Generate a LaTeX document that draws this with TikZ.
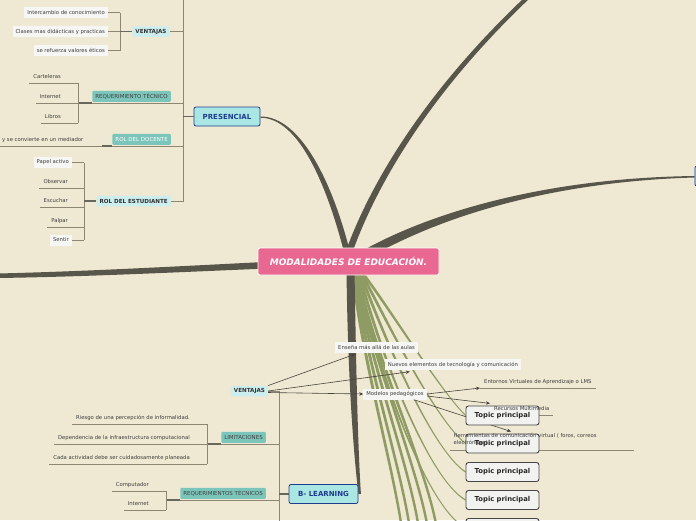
\documentclass[tikz,border=0pt]{standalone}
\usepackage{fontspec}
\setmainfont{DejaVu Sans}
\usetikzlibrary{arrows.meta,calc}
\pgfdeclarelayer{back}
\pgfsetlayers{back,main}
\definecolor{bgc}{RGB}{239,232,210}
\definecolor{brc}{RGB}{88,86,74}
\definecolor{grc}{RGB}{142,155,99}
\definecolor{pinkc}{RGB}{233,104,145}
\definecolor{cyanc}{RGB}{170,230,228}
\definecolor{bluec}{RGB}{30,60,140}
\definecolor{lcyanc}{RGB}{205,238,238}
\definecolor{tealc}{RGB}{124,197,187}
\definecolor{boxc}{RGB}{246,246,244}
\definecolor{txtc}{RGB}{60,60,60}
\definecolor{linec}{RGB}{140,134,114}
\definecolor{arrc}{RGB}{70,68,60}
\definecolor{topc}{RGB}{242,242,240}
\definecolor{topbc}{RGB}{70,70,70}
\newcommand\grbranch[7]{%
 \fill[grc] ($(#1,#2)+(-1.6,0)$) .. controls ($(#3,#4)+(-1.6,0)$) and ($(#5,#6)+(0,0.7)$) .. ($(#7)+(0,0.7)$) -- ($(#7)+(0,-0.7)$) .. controls ($(#5,#6)+(0,-0.7)$) and ($(#3,#4)+(1.6,0)$) .. ($(#1,#2)+(1.6,0)$) -- cycle;}
\newcommand\grdown[7]{%
 \fill[grc] ($(#1,#2)+(-1.6,0)$) .. controls ($(#3,#4)+(-1.5,0)$) and ($(#5,#6)+(-1.3,0)$) .. ($(#7)+(-1.2,0)$) -- ($(#7)+(1.2,0)$) .. controls ($(#5,#6)+(1.3,0)$) and ($(#3,#4)+(1.5,0)$) .. ($(#1,#2)+(1.6,0)$) -- cycle;}
\tikzset{
 fsm/.style={font=\fontsize{5.3}{6.2}\selectfont},
 plain/.style={fsm, text=txtc, inner xsep=4pt, inner ysep=3pt, text height=4pt, text depth=1.2pt},
 gbox/.style={fsm, text=txtc, fill=boxc, inner xsep=3pt, inner ysep=0pt, minimum height=11pt},
 tealbox/.style={font=\fontsize{5.5}{6.5}\selectfont, text=black!75, fill=tealc, rounded corners=1pt, inner xsep=3pt, inner ysep=0pt, minimum height=11pt},
 lcy/.style={font=\bfseries\fontsize{5.6}{6.5}\selectfont, text=black!80, fill=lcyanc, rounded corners=1pt, inner xsep=3pt, inner ysep=0pt, minimum height=10.5pt},
 mainbox/.style={font=\bfseries\fontsize{7}{8}\selectfont, text=bluec, fill=cyanc, draw=bluec, line width=0.8pt, rounded corners=2pt, minimum height=19pt},
 topic/.style={font=\bfseries\fontsize{6.8}{8}\selectfont, text=black!85, fill=topc, draw=topbc, line width=0.9pt, rounded corners=2.5pt, minimum width=73pt, minimum height=19pt},
 conn/.style={draw=linec, line width=0.6pt},
 connb/.style={draw=brc!90, line width=1.1pt},
 arr/.style={draw=arrc, line width=0.6pt, -{Stealth[length=4pt,width=3.5pt]}},
}
\begin{document}
\begin{tikzpicture}[x=1pt,y=-1pt]
\useasboundingbox (0,0) rectangle (696,520);
\clip (0,0) rectangle (696,520);

% ===== PRESENCIAL side =====
\node[mainbox, minimum width=66pt] (pres) at (227,116.5) {PRESENCIAL};
\coordinate (pv0) at (183,-5);
\coordinate (pv1) at (183,201.5);
\draw[conn] (pv0) -- (pv1);
\draw[connb] (pres.west) -- (pres.west -| pv0);

% VENTAJAS (presencial)
\node[lcy] (v1) at (151,31.5) {VENTAJAS};
\draw[conn] (v1.east) -- (v1.east -| pv0);
\coordinate (b1t) at (120,12.5);
\coordinate (b1b) at (120,50.5);
\draw[conn] (b1t) -- (b1b);
\draw[connb] (v1.west) -- (v1.west -| b1t);
\node[gbox, anchor=east] (ic) at (108,12.5) {Intercambio de conocimiento};
\node[gbox, anchor=east] (cl) at (108,31.5) {Clases mas didácticas y practicas};
\node[gbox, anchor=east] (se) at (108,50.5) {se refuerza valores éticos};
\foreach \n in {ic,cl,se} \draw[conn] (\n.east) -- (\n.east -| b1t);

% REQUERIMIENTO TECNICO
\node[tealbox, anchor=south east] (req1) at (171,102) {REQUERIMIENTO TÉCNICO};
\coordinate (r1l) at (78,103);
\draw[conn] (r1l) -- (r1l -| pv0);
\draw[connb] (r1l) -- (req1.south west |- r1l);
\coordinate (b2t) at (78,83);
\coordinate (b2b) at (78,123);
\draw[conn] (b2t) -- (b2b);
\node[plain, anchor=south east] (cart) at (65,83) {Carteleras};
\node[plain, anchor=south east] (inte) at (65,103) {Internet};
\node[plain, anchor=south east] (lib) at (65,123) {Libros};
\foreach \n in {cart,inte,lib} \draw[conn] (\n.south west) -- (\n.south west -| b2t);

% ROL DEL DOCENTE
\node[tealbox, text=white, anchor=south east] (rd) at (171,145) {ROL DEL DOCENTE};
\coordinate (rdl) at (-5,146);
\draw[conn] (rdl) -- (rdl -| pv0);
\draw[connb] (rd.south west |- rdl) ++(-10,0) -- (rd.south west |- rdl);
\node[plain, anchor=south east] (med) at (87.5,146) {y se convierte en un mediador};

% ROL DEL ESTUDIANTE
\node[lcy, anchor=east] (re) at (171,201) {ROL DEL ESTUDIANTE};
\draw[conn] (re.east) -- (re.east -| pv0);
\coordinate (b4t) at (84,162.5);
\coordinate (b4b) at (84,240);
\draw[conn] (b4t) -- (b4b);
\draw[connb] (re.west) -- (re.west -| b4t);
\node[gbox, anchor=east] (pap) at (72,162.5) {Papel activo};
\node[gbox, anchor=east] (sen) at (72,240) {Sentir};
\node[plain, anchor=south east] (obs) at (72,188) {Observar};
\node[plain, anchor=south east] (esc) at (72,207) {Escuchar};
\node[plain, anchor=south east] (pal) at (72,227) {Palpar};
\foreach \n in {pap,sen} \draw[conn] (\n.east) -- (\n.east -| b4t);
\foreach \n in {obs,esc,pal} \draw[conn] (\n.south west) -- (\n.south west -| b4t);

% ===== B-LEARNING side =====
\node[mainbox, minimum width=69pt] (bl) at (323.5,494) {B- LEARNING};
\node[lcy] (v2) at (249.5,391) {VENTAJAS};
\coordinate (bv0) at (279,391);
\coordinate (bv1) at (279,525);
\draw[conn] (v2.east) -- (bv0) -- (bv1);
\draw[connb] (bl.west) -- (bl.west -| bv0);

% LIMITACIONES
\node[tealbox, anchor=south east] (lim) at (266,443) {LIMITACIONES};
\coordinate (l0) at (207,444);
\draw[conn] (l0) -- (l0 -| bv0);
\draw[connb] (l0) -- (lim.south west |- l0);
\coordinate (b5t) at (207,424);
\coordinate (b5b) at (207,464);
\draw[conn] (b5t) -- (b5b);
\node[plain, anchor=south east] (rie) at (194,424) {Riesgo de una percepción de informalidad.};
\node[plain, anchor=south east] (dep) at (194,444) {Dependencia de la infraestructura computacional};
\node[plain, anchor=south east] (cad) at (194,464) {Cada actividad debe ser cuidadosamente planeada};
\foreach \n in {rie,dep,cad} \draw[conn] (\n.south west) -- (\n.south west -| b5t);

% REQUERIMIENTOS TECNICOS
\node[tealbox, anchor=south east] (req2) at (266,499) {REQUERIMIENTOS TÉCNICOS};
\coordinate (q0) at (166,500);
\draw[conn] (q0) -- (q0 -| bv0);
\draw[connb] (q0) -- (req2.south west |- q0);
\coordinate (b6t) at (166,491);
\coordinate (b6b) at (166,510);
\draw[conn] (b6t) -- (b6b);
\node[plain, anchor=south east] (comp) at (153,491) {Computador};
\node[plain, anchor=south east] (int2) at (153,510) {Internet};
\foreach \n in {comp,int2} \draw[conn] (\n.south west) -- (\n.south west -| b6t);

% right off-canvas main topic
\node[mainbox, minimum width=60pt, minimum height=20pt, anchor=west] (rn) at (694.5,176) {};

% central node
\node[fill=pinkc, draw=white, line width=0.8pt, rounded corners=2pt, minimum width=181pt, minimum height=27pt, text=white, font=\bfseries\itshape\fontsize{9}{10}\selectfont] (ctr) at (348.5,261.5) {MODALIDADES DE EDUCACIÓN.};

% ventajas children
\node[gbox] (ens) at (376.5,347) {Enseña más allá de las aulas};
\node[gbox] (nue) at (453,364.5) {Nuevos elementos de tecnología y comunicación};
\node[gbox] (mod) at (395,394) {Modelos pedagógicos};
\draw[arr] (v2.north east) -- ($(ens.south west)+(20,1.5)$);
\draw[arr] (v2.east) -- ($(nue.south west)+(25,1.5)$);
\draw[arr] ($(v2.east)+(0,1.5)$) -- (mod.west);

% modelos children: positions, underlines and arrows (behind topics)
\path (480,388) node[plain, anchor=south west] (ent) {\phantom{Entornos Virtuales de Aprendizaje o LMS}};
\path (490,415) node[plain, anchor=south west] (rec) {\phantom{Recursos Multimedia}};
\path (453.5,433.5) node[fsm, align=left, inner sep=0pt, anchor=north west] (her) {\phantom{Herramientas de comunicación virtual ( foros, correos}\\\phantom{electrónicos)}};
\draw[conn] (ent.south west) -- (ent.south east);
\draw[conn] (rec.south west) -- (rec.south east);
\coordinate (herl) at (450,450);
\coordinate (herr) at (634,450);
\draw[conn] (herl) -- (herr);
\draw[arr] (mod.east) -- (ent.south west);
\draw[arr] ($(mod.east)+(0,2)$) -- (rec.north west);
\draw[arr] ($(mod.south east)+(-13,0)$) -- ($(her.north west)+(57.5,-2)$);

% topics
\node[topic] (tp1) at (502.5,415.5) {Topic principal};
\node[topic] (tp2) at (502.5,443.5) {Topic principal};
\node[topic] (tp3) at (502.5,472) {Topic principal};
\node[topic] (tp4) at (502.5,500) {Topic principal};
\node[topic] (tp5) at (502.5,528) {Topic principal};

% texts of modelos children (over the topics, as in the reference)
\node[plain, anchor=south west] at (ent.south west) {Entornos Virtuales de Aprendizaje o LMS};
\node[plain, anchor=south west] at (rec.south west) {Recursos Multimedia};
\node[fsm, text=txtc, align=left, inner sep=0pt, anchor=north west] at (her.north west) {Herramientas de comunicación virtual ( foros, correos\\electrónicos)};

\coordinate (o6) at (437,530);
\coordinate (o7) at (428,530);
\coordinate (o8) at (419,530);
\coordinate (o9) at (410,530);
\coordinate (o10) at (402,530);

\begin{pgfonlayer}{back}
\fill[bgc] (0,0) rectangle (696,520);
% green branches
\grbranch{362}{272}{396}{318}{440}{390}{tp1.west}
\grbranch{361}{272}{390}{328}{436}{420}{tp2.west}
\grbranch{360}{272}{384}{338}{432}{450}{tp3.west}
\grbranch{359}{272}{378}{348}{428}{479}{tp4.west}
\grbranch{358}{272}{373}{358}{425}{507}{tp5.west}
\grdown{357}{272}{372}{350}{428}{470}{o6}
\grdown{356}{272}{369}{350}{419}{470}{o7}
\grdown{355}{272}{366}{350}{411}{470}{o8}
\grdown{354}{272}{363}{350}{402}{470}{o9}
\grdown{353}{272}{360}{350}{394}{470}{o10}
% dark branches
\fill[brc] (pres.east) .. controls (301,116.2) and (333,184) .. (350,252) -- (344,252) .. controls (327,186) and (299,117.8) .. ($(pres.east)+(0,1.2)$) -- cycle;
\fill[brc] (345.5,252) .. controls (371.5,180) and (427,90) .. (524,-2) -- (530,-2) .. controls (433,90) and (378.5,180) .. (352.5,252) -- cycle;
\fill[brc] (350,258) .. controls (420,215) and (540,178) .. (rn.west) -- ($(rn.west)+(0,1.5)$) .. controls (540,182) and (425,222) .. (355,266) -- cycle;
\fill[brc] (305,260) .. controls (200,265) and (100,271) .. (-2,273.5) -- (-2,278) .. controls (100,276.5) and (200,271) .. (305,267) -- cycle;
\fill[brc] (346.5,270) .. controls (347.5,360) and (352,440) .. (bl.east) -- ($(bl.east)+(2.5,0)$) .. controls (357.5,440) and (356,360) .. (354.5,270) -- cycle;
\end{pgfonlayer}
\end{tikzpicture}
\end{document}
